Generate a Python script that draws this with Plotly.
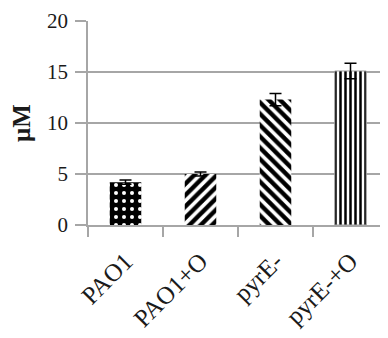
import plotly.graph_objects as go

categories = ["PAO1", "PAO1+O", "pyrE-", "pyrE-+O"]
values = [4.2, 5.0, 12.3, 15.1]
errors = [0.2, 0.2, 0.6, 0.75]
shapes = [".", "/", "\\", "|"]
y_ticks = [0, 5, 10, 15, 20]

fig = go.Figure()
for i, c in enumerate(categories):
    if shapes[i] == ".":
        pattern = dict(shape=".", fillmode="overlay", fgcolor="white", fgopacity=1, size=8, solidity=0.2)
        color = "black"
    elif shapes[i] == "|":
        pattern = dict(shape="|", fillmode="overlay", fgcolor="black", fgopacity=1, size=5, solidity=0.5)
        color = "white"
    else:
        pattern = dict(shape=shapes[i], fillmode="overlay", fgcolor="black", fgopacity=1, size=8, solidity=0.55)
        color = "white"
    fig.add_trace(go.Bar(
        x=[c], y=[values[i]],
        marker=dict(color=color, pattern=pattern,
                    line=dict(color="#a0a0a0" if shapes[i] == "|" else "rgba(0,0,0,0)", width=1)),
        error_y=dict(type="data", array=[errors[i]], color="black", thickness=1.5, width=6),
        width=0.42, showlegend=False,
    ))

fig.update_layout(
    width=380, height=330,
    margin=dict(l=80, r=0, t=13, b=113),
    plot_bgcolor="white", paper_bgcolor="white",
    font=dict(family="Liberation Serif", size=21, color="#1a1a1a"),
)
fig.update_yaxes(
    range=[0, 20], tickvals=y_ticks, showgrid=True, gridcolor="#a6a6a6", gridwidth=1.5,
    showline=True, linecolor="#a6a6a6", linewidth=1.5,
    ticks="outside", ticklen=11, tickcolor="#a6a6a6", tickwidth=1.5,
    zeroline=False, automargin=False, ticklabelstandoff=3,
    title=dict(text="<b>μM</b>", font=dict(size=25), standoff=10),
)
fig.update_xaxes(
    tickangle=-45, ticks="outside", tickson="boundaries", ticklen=10,
    tickcolor="#a6a6a6", tickwidth=1.5, showline=True, linecolor="#a6a6a6", linewidth=1.5,
    ticklabelstandoff=10, automargin=False, tickfont=dict(size=25),
)
fig.write_html("out.html")
